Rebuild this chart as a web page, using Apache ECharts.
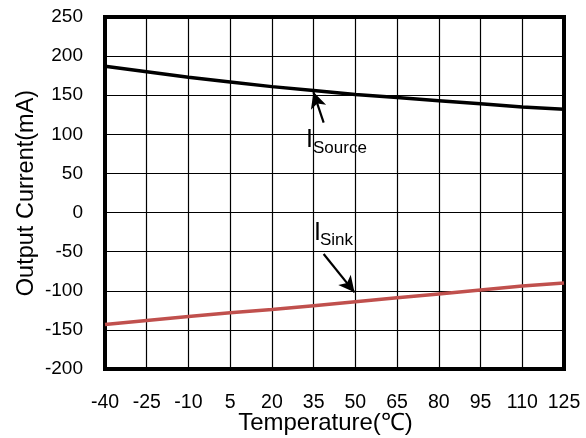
<!DOCTYPE html>
<html><head><meta charset="utf-8">
<script src="https://cdn.jsdelivr.net/npm/echarts@6/dist/echarts.min.js"></script>
<style>html,body{margin:0;padding:0;background:#fff}#c{width:586px;height:438px}</style>
</head><body><div id="c"></div>
<script>
var temperatures = ['-40','-25','-10','5','20','35','50','65','80','95','110','125'];
var sourceCurrent = [187,180,173,167,161,156,151,147,143,139,135,132];
var sinkCurrent = [-143,-138,-133,-128,-124,-119,-114,-109,-104,-99,-94,-90];
var yTicks = {min:-200, max:250, interval:50};
// arrow annotations in [temperature-index, current] space: start -> end
var sourceArrow = [[5.24,115],[4.995,154]];
var sinkArrow = [[5.24,-53],[5.98,-102]];

function pairs(vals){ return vals.map(function(v,i){ return [i, v]; }); }

var chart = echarts.init(document.getElementById('c'));
var F = '"Liberation Sans", Arial, sans-serif';
chart.setOption({
  animation:false,
  grid:{left:105,right:22,top:17,bottom:69,show:true,borderColor:'#000',borderWidth:4,backgroundColor:'transparent',
    containLabel:false,outerBoundsMode:'none'},
  xAxis:{type:'value',min:0,max:temperatures.length-1,interval:1,
    axisLine:{show:false},axisTick:{show:false},
    axisLabel:{color:'#000',fontFamily:F,fontSize:19.5,margin:24,
      formatter:function(v){ return temperatures[Math.round(v)]; }},
    splitLine:{show:true,lineStyle:{color:'#000',width:1.2}},
    name:'Temperature(℃)',nameLocation:'middle',nameGap:42,nameMoveOverlap:false,
    nameTextStyle:{color:'#000',fontFamily:F,fontSize:24,padding:[0,18,0,0]}},
  yAxis:{type:'value',min:yTicks.min,max:yTicks.max,interval:yTicks.interval,
    axisLine:{show:false},axisTick:{show:false},
    axisLabel:{color:'#000',fontFamily:F,fontSize:19,margin:22},
    splitLine:{show:true,lineStyle:{color:'#000',width:1.2}},
    name:'Output Current(mA)',nameLocation:'middle',nameGap:66,nameMoveOverlap:false,
    nameTextStyle:{color:'#000',fontFamily:F,fontSize:23.5}},
  series:[
    {type:'line',data:pairs(sourceCurrent),symbol:'none',lineStyle:{color:'#000',width:3.5},
     markLine:{silent:true,symbol:['none','arrow'],symbolSize:[12,16],label:{show:false},
       lineStyle:{color:'#000',width:2.2,type:'solid'},
       data:[[{coord:sourceArrow[0]},{coord:sourceArrow[1]}],[{coord:sinkArrow[0]},{coord:sinkArrow[1]}]]}},
    {type:'line',data:pairs(sinkCurrent),symbol:'none',lineStyle:{color:'#C0504D',width:3.5}}
  ],
  graphic:[
    {type:'text',left:306,top:128,style:{text:'I',font:'25px "Liberation Sans", Arial',fill:'#000'}},
    {type:'text',left:313,top:140,style:{text:'Source',font:'17px "Liberation Sans", Arial',fill:'#000'}},
    {type:'text',left:314,top:221,style:{text:'I',font:'25px "Liberation Sans", Arial',fill:'#000'}},
    {type:'text',left:320,top:232,style:{text:'Sink',font:'17px "Liberation Sans", Arial',fill:'#000'}}
  ]
});
</script></body></html>
